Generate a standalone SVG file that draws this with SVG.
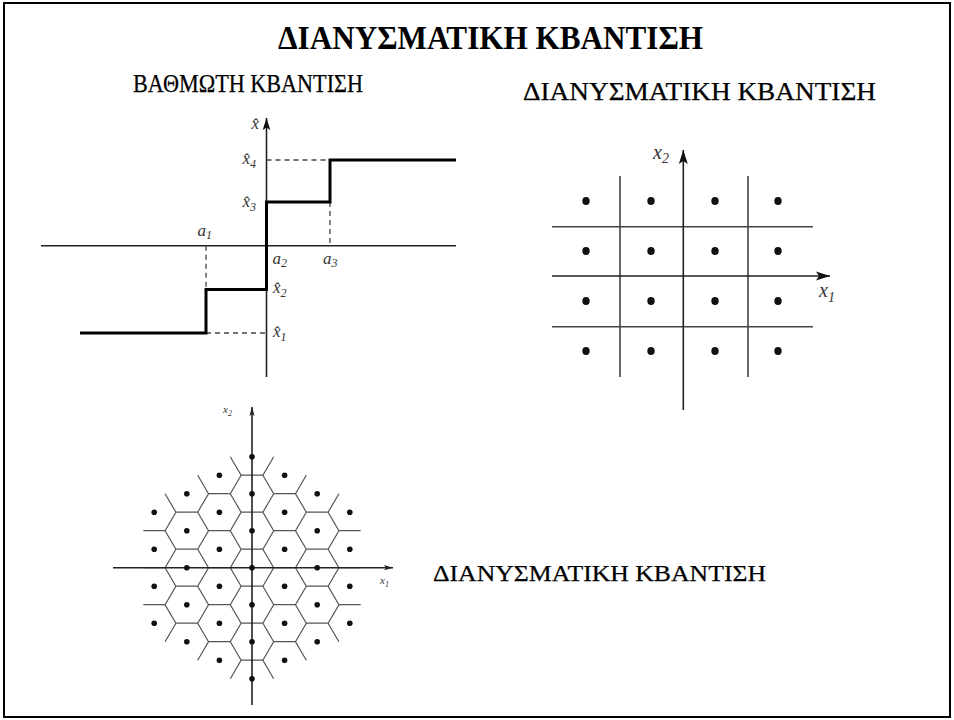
<svg xmlns="http://www.w3.org/2000/svg" width="954" height="720" viewBox="0 0 954 720">
<style>
.ttl{font-family:"Liberation Serif","Times New Roman","DejaVu Serif",serif;font-weight:bold;fill:#000}
.hd{font-family:"Liberation Serif","Times New Roman","DejaVu Serif",serif;fill:#000;stroke:#000;stroke-width:0.25}
.lb{font-family:"Liberation Serif","Times New Roman","DejaVu Serif",serif;font-style:italic;fill:#333}
.ax{stroke:#222;stroke-width:1.6;fill:none}
.step{stroke:#000;stroke-width:3;fill:none}
.dash{stroke:#444;stroke-width:1.3;stroke-dasharray:5 4;fill:none}
.grid{stroke:#444;stroke-width:1.6;fill:none}
.hex{stroke:#555;stroke-width:1.2;fill:none}
.dot{fill:#111}
</style>
<defs>
<marker id="arrL" markerUnits="userSpaceOnUse" markerWidth="16" markerHeight="12" viewBox="0 -6 16 12" refX="14" refY="0" orient="auto">
<path d="M0,-4.5 L14,0 L0,4.5 L3,0 z" fill="#111"/>
</marker>
<marker id="arrM" markerUnits="userSpaceOnUse" markerWidth="14" markerHeight="10" viewBox="0 -5 14 10" refX="12" refY="0" orient="auto">
<path d="M0,-3.8 L12,0 L0,3.8 L2.5,0 z" fill="#111"/>
</marker>
<marker id="arrS" markerUnits="userSpaceOnUse" markerWidth="10" markerHeight="8" viewBox="0 -4 10 8" refX="9" refY="0" orient="auto">
<path d="M0,-2.6 L9,0 L0,2.6 L2,0 z" fill="#222"/>
</marker>
</defs>
<rect x="4" y="3" width="946" height="714" fill="#fff" stroke="#000" stroke-width="2"/>

<g id="title">
<text class="ttl" x="278" y="49" font-size="33" textLength="425" lengthAdjust="spacingAndGlyphs">ΔΙΑΝΥΣΜΑΤΙΚΗ ΚΒΑΝΤΙΣΗ</text>
</g>
<g id="heading-scalar">
<text class="hd" x="133" y="92" font-size="25" textLength="230" lengthAdjust="spacingAndGlyphs">ΒΑΘΜΩΤΗ ΚΒΑΝΤΙΣΗ</text>
</g>
<g id="heading-vector">
<text class="hd" x="523" y="100" font-size="25" textLength="353" lengthAdjust="spacingAndGlyphs">ΔΙΑΝΥΣΜΑΤΙΚΗ ΚΒΑΝΤΙΣΗ</text>
</g>
<g id="heading-hex">
<text class="hd" x="433" y="581" font-size="24" textLength="333" lengthAdjust="spacingAndGlyphs">ΔΙΑΝΥΣΜΑΤΙΚΗ ΚΒΑΝΤΙΣΗ</text>
</g>

<g id="scalar-quantizer">
<line class="ax" x1="41" y1="245.7" x2="456" y2="245.7"/>
<line class="ax" x1="266.5" y1="377" x2="266.5" y2="118" marker-end="url(#arrM)"/>
<path class="dash" d="M266.5,160 H330 M330,202 V245.7 M206,245.7 V289.5 M206,333 H266.5"/>
<path class="step" d="M80,333 H206 V289.5 H266.5 V202 H330 V160 H456"/>
<text class="lb" x="251.5" y="129" font-size="17">x̂</text>
<text class="lb" x="242.5" y="164" font-size="17">x̂<tspan font-size="12" dy="4">4</tspan></text>
<text class="lb" x="242.5" y="207" font-size="17">x̂<tspan font-size="12" dy="4">3</tspan></text>
<text class="lb" x="197.5" y="236" font-size="17">a<tspan font-size="12" dy="3">1</tspan></text>
<text class="lb" x="272.5" y="264" font-size="17">a<tspan font-size="12" dy="3">2</tspan></text>
<text class="lb" x="323" y="264" font-size="17">a<tspan font-size="12" dy="3">3</tspan></text>
<text class="lb" x="273" y="293" font-size="17">x̂<tspan font-size="12" dy="4">2</tspan></text>
<text class="lb" x="273" y="337" font-size="17">x̂<tspan font-size="12" dy="4">1</tspan></text>
</g>

<g id="vector-quantizer">
<path class="grid" d="M620,176 V377 M748,176 V377 M552,226.7 H813 M552,326.7 H813"/>
<line class="ax" x1="552" y1="276" x2="830" y2="276" marker-end="url(#arrL)"/>
<line class="ax" x1="683.3" y1="410" x2="683.3" y2="150" marker-end="url(#arrL)"/>
<g class="dot">
<ellipse cx="586" cy="201" rx="3.7" ry="4"/><ellipse cx="651" cy="201" rx="3.7" ry="4"/><ellipse cx="715" cy="201" rx="3.7" ry="4"/><ellipse cx="778" cy="201" rx="3.7" ry="4"/>
<ellipse cx="586" cy="251" rx="3.7" ry="4"/><ellipse cx="651" cy="251" rx="3.7" ry="4"/><ellipse cx="715" cy="251" rx="3.7" ry="4"/><ellipse cx="778" cy="251" rx="3.7" ry="4"/>
<ellipse cx="586" cy="301" rx="3.7" ry="4"/><ellipse cx="651" cy="301" rx="3.7" ry="4"/><ellipse cx="715" cy="301" rx="3.7" ry="4"/><ellipse cx="778" cy="301" rx="3.7" ry="4"/>
<ellipse cx="586" cy="351" rx="3.7" ry="4"/><ellipse cx="651" cy="351" rx="3.7" ry="4"/><ellipse cx="715" cy="351" rx="3.7" ry="4"/><ellipse cx="778" cy="351" rx="3.7" ry="4"/>
</g>
<text class="lb" x="653" y="159" font-size="20">x<tspan font-size="14" dy="4">2</tspan></text>
<text class="lb" x="819" y="297" font-size="20">x<tspan font-size="14" dy="5">1</tspan></text>
</g>

<g id="hex-quantizer">
<g transform="translate(252,567.7)">
<path class="hex" d="M-10.9,-92.5H10.9M-10.9,-55.5H10.9M-10.9,-18.5H10.9M-10.9,18.5H10.9M-10.9,55.5H10.9M-10.9,92.5H10.9
M21.7,-74H43.5M21.7,-37H43.5M21.7,0H43.5M21.7,37H43.5M21.7,74H43.5
M-43.5,-74H-21.7M-43.5,-37H-21.7M-43.5,0H-21.7M-43.5,37H-21.7M-43.5,74H-21.7
M54.3,-55.5H76.1M54.3,-18.5H76.1M54.3,18.5H76.1M54.3,55.5H76.1
M-76.1,-55.5H-54.3M-76.1,-18.5H-54.3M-76.1,18.5H-54.3M-76.1,55.5H-54.3
M86.9,-37H108.7M86.9,0H108.7M86.9,37H108.7
M-108.7,-37H-86.9M-108.7,0H-86.9M-108.7,37H-86.9
M-86.9,-74L-76.1,-55.5L-86.9,-37L-76.1,-18.5L-86.9,0L-76.1,18.5L-86.9,37L-76.1,55.5L-86.9,74
M86.9,-74L76.1,-55.5L86.9,-37L76.1,-18.5L86.9,0L76.1,18.5L86.9,37L76.1,55.5L86.9,74
M-54.3,-92.5L-43.5,-74L-54.3,-55.5L-43.5,-37L-54.3,-18.5L-43.5,0L-54.3,18.5L-43.5,37L-54.3,55.5L-43.5,74L-54.3,92.5
M54.3,-92.5L43.5,-74L54.3,-55.5L43.5,-37L54.3,-18.5L43.5,0L54.3,18.5L43.5,37L54.3,55.5L43.5,74L54.3,92.5
M-21.7,-111L-10.9,-92.5L-21.7,-74L-10.9,-55.5L-21.7,-37L-10.9,-18.5L-21.7,0L-10.9,18.5L-21.7,37L-10.9,55.5L-21.7,74L-10.9,92.5L-21.7,111
M21.7,-111L10.9,-92.5L21.7,-74L10.9,-55.5L21.7,-37L10.9,-18.5L21.7,0L10.9,18.5L21.7,37L10.9,55.5L21.7,74L10.9,92.5L21.7,111"/>
<line class="ax" x1="-139" y1="0" x2="141" y2="0" stroke-width="1.4" marker-end="url(#arrS)"/>
<line class="ax" x1="0" y1="137.3" x2="0" y2="-160.7" stroke-width="1.4" marker-end="url(#arrS)"/>
<g class="dot">
<circle cx="0" cy="-111" r="2.8"/><circle cx="0" cy="-74" r="2.8"/><circle cx="0" cy="-37" r="2.8"/><circle cx="0" cy="0" r="2.8"/><circle cx="0" cy="37" r="2.8"/><circle cx="0" cy="74" r="2.8"/><circle cx="0" cy="111" r="2.8"/>
<circle cx="-32.6" cy="-92.5" r="2.8"/><circle cx="-32.6" cy="-55.5" r="2.8"/><circle cx="-32.6" cy="-18.5" r="2.8"/><circle cx="-32.6" cy="18.5" r="2.8"/><circle cx="-32.6" cy="55.5" r="2.8"/><circle cx="-32.6" cy="92.5" r="2.8"/>
<circle cx="32.6" cy="-92.5" r="2.8"/><circle cx="32.6" cy="-55.5" r="2.8"/><circle cx="32.6" cy="-18.5" r="2.8"/><circle cx="32.6" cy="18.5" r="2.8"/><circle cx="32.6" cy="55.5" r="2.8"/><circle cx="32.6" cy="92.5" r="2.8"/>
<circle cx="-65.2" cy="-74" r="2.8"/><circle cx="-65.2" cy="-37" r="2.8"/><circle cx="-65.2" cy="0" r="2.8"/><circle cx="-65.2" cy="37" r="2.8"/><circle cx="-65.2" cy="74" r="2.8"/>
<circle cx="65.2" cy="-74" r="2.8"/><circle cx="65.2" cy="-37" r="2.8"/><circle cx="65.2" cy="0" r="2.8"/><circle cx="65.2" cy="37" r="2.8"/><circle cx="65.2" cy="74" r="2.8"/>
<circle cx="-97.8" cy="-55.5" r="2.8"/><circle cx="-97.8" cy="-18.5" r="2.8"/><circle cx="-97.8" cy="18.5" r="2.8"/><circle cx="-97.8" cy="55.5" r="2.8"/>
<circle cx="97.8" cy="-55.5" r="2.8"/><circle cx="97.8" cy="-18.5" r="2.8"/><circle cx="97.8" cy="18.5" r="2.8"/><circle cx="97.8" cy="55.5" r="2.8"/>
</g>
</g>
<text class="lb" x="223" y="413" font-size="11">x<tspan font-size="8" dy="3">2</tspan></text>
<text class="lb" x="380" y="584" font-size="11">x<tspan font-size="8" dy="3">1</tspan></text>
</g>
</svg>
